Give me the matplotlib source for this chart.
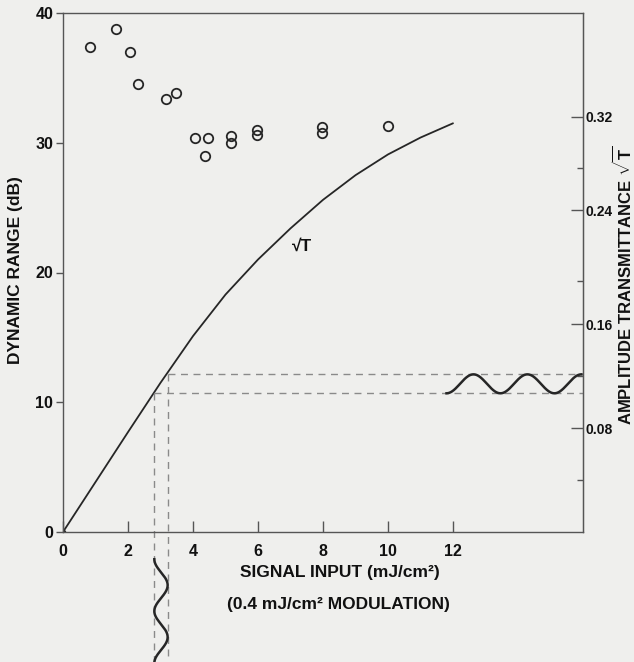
import numpy as np
import matplotlib
matplotlib.use("Agg")
import matplotlib.pyplot as plt

plt.rcParams['font.family'] = ['Liberation Sans', 'DejaVu Sans']
plt.rcParams['mathtext.fontset'] = 'custom'
plt.rcParams['mathtext.rm'] = 'Liberation Sans'
plt.rcParams['mathtext.bf'] = 'Liberation Sans:bold'

# ---- data ----
# measured dynamic range points (signal input mJ/cm^2, dB)
pts_x = [0.83, 1.62, 2.06, 2.30, 3.16, 3.49, 4.07, 4.45, 4.38, 5.16, 5.16, 5.96, 5.96, 7.97, 7.97, 9.99]
pts_y = [37.36, 38.74, 36.97, 34.55, 33.35, 33.86, 30.39, 30.34, 29.0, 30.52, 29.98, 30.98, 30.6, 31.19, 30.73, 31.31]

# sqrt(T) curve (in left-axis units)
curve_x = [0, 1, 2, 3, 4, 5, 6, 7, 8, 9, 10, 11, 12]
curve_y = [0, 3.85, 7.7, 11.5, 15.1, 18.3, 21.0, 23.4, 25.6, 27.5, 29.1, 30.4, 31.5]

# modulation operating points
mod_x = [2.81, 3.22]
mod_y = [10.69, 12.15]

# right axis calibration: sqrt(T) value vs dB position
sqrtT_cal = [0.0, 0.04, 0.08, 0.12, 0.16, 0.20, 0.24, 0.28, 0.32, 0.40]
dB_cal = [0.0, 4.0, 8.0, 12.0, 16.0, 19.35, 24.8, 28.05, 32.0, 40.0]

x_ticks = [0, 2, 4, 6, 8, 10, 12]
y_ticks = [0, 10, 20, 30, 40]
r_major = [0.08, 0.16, 0.24, 0.32]
r_minor = [0.04, 0.12, 0.20, 0.28]

bg = '#efefed'
ink = '#262626'
txt = '#111111'
dash_c = '#8a8a8a'
spine_c = '#555555'
fs = 11.5

fig = plt.figure(figsize=(6.34, 6.62), dpi=100, facecolor=bg)
ax = fig.add_axes([63/634, 1 - 532/662, 520/634, 519/662])
ax.set_facecolor(bg)
ax.set_xlim(0, 16)
ax.set_ylim(0, 40)

# curve
ax.plot(curve_x, curve_y, color=ink, lw=1.3, solid_capstyle='round',
        solid_joinstyle='round')
ax.plot([0], [0], 'o', ms=3, color=ink)

# data points
ax.plot(pts_x, pts_y, 'o', ms=6.8, mfc='none', mec=ink, mew=1.3)

# dashed guide lines
dash = dict(color=dash_c, lw=1.0, dashes=(5, 4))
for mx, my in zip(mod_x, mod_y):
    ax.plot([mx, 16], [my, my], **dash)
    ax.plot([mx, mx], [my, -10.5], clip_on=False, **dash)

# output modulation (horizontal wave)
c_y = np.mean(mod_y)
a_y = (mod_y[1] - mod_y[0]) / 2
wx = np.linspace(11.8, 15.95, 300)
period_x = 1.66
wy = c_y - a_y * np.cos(2 * np.pi * (wx - 11.8) / period_x)
ax.plot(wx, wy, color=ink, lw=1.8)

# input modulation (vertical wave below the axis)
c_x = np.mean(mod_x)
a_x = (mod_x[1] - mod_x[0]) / 2
vy = np.linspace(-2.1, -10.5, 300)
period_y = 4.0
vx = c_x - a_x * np.cos(2 * np.pi * (-2.1 - vy) / period_y)
ax.plot(vx, vy, color=ink, lw=1.8, clip_on=False)

# sqrt T label
ax.text(7.37, 22.0, '√T', ha='center', va='center', fontsize=12.5,
        fontweight='bold', color=txt)

# axes styling
for s in ax.spines.values():
    s.set_color(spine_c)
    s.set_linewidth(1.0)

ax.set_xticks(x_ticks)
ax.set_xticklabels([str(v) for v in x_ticks])
ax.set_yticks(y_ticks)
ax.set_yticklabels([str(v) for v in y_ticks])
ax.tick_params(axis='x', direction='in', length=8, width=1.0, color=spine_c,
               pad=9, labelsize=fs, labelcolor=txt)
ax.tick_params(axis='y', direction='out', length=5, width=1.0, color=spine_c,
               pad=2, labelsize=fs, labelcolor=txt)
for lab in ax.get_xticklabels() + ax.get_yticklabels():
    lab.set_fontweight('bold')

sec = ax.secondary_yaxis('right', functions=(
    lambda d: np.interp(d, dB_cal, sqrtT_cal),
    lambda s: np.interp(s, sqrtT_cal, dB_cal)))
sec.set_yticks(r_major)
sec.set_yticks(r_minor, minor=True)
sec.set_yticklabels([f'{v:.2f}' for v in r_major])
sec.tick_params(axis='y', which='major', direction='in', length=9, width=1.0,
                color=spine_c, pad=2, labelsize=10, labelcolor=txt)
sec.tick_params(axis='y', which='minor', direction='in', length=4, width=1.0,
                color=spine_c)
for lab in sec.get_yticklabels():
    lab.set_fontweight('bold')
sec.spines['right'].set_color(spine_c)

# axis labels
fig.text(340/634, 1 - 573/662, 'SIGNAL INPUT (mJ/cm²)', ha='center', va='center',
         fontsize=12.5, fontweight='bold', color=txt)
fig.text(338/634, 1 - 604/662, '(0.4 mJ/cm² MODULATION)', ha='center', va='center',
         fontsize=12.5, fontweight='bold', color=txt)
fig.text(16/634, 1 - 270/662, 'DYNAMIC RANGE (dB)', rotation=90, ha='center',
         va='center', fontsize=12.5, fontweight='bold', color=txt)
fig.text(623/634, 1 - 285/662, r'AMPLITUDE TRANSMITTANCE $\sqrt{\mathbf{T}}$',
         rotation=90, ha='center', va='center', fontsize=12, fontweight='bold',
         color=txt)

fig.savefig('out.png', dpi=100, facecolor=bg)
